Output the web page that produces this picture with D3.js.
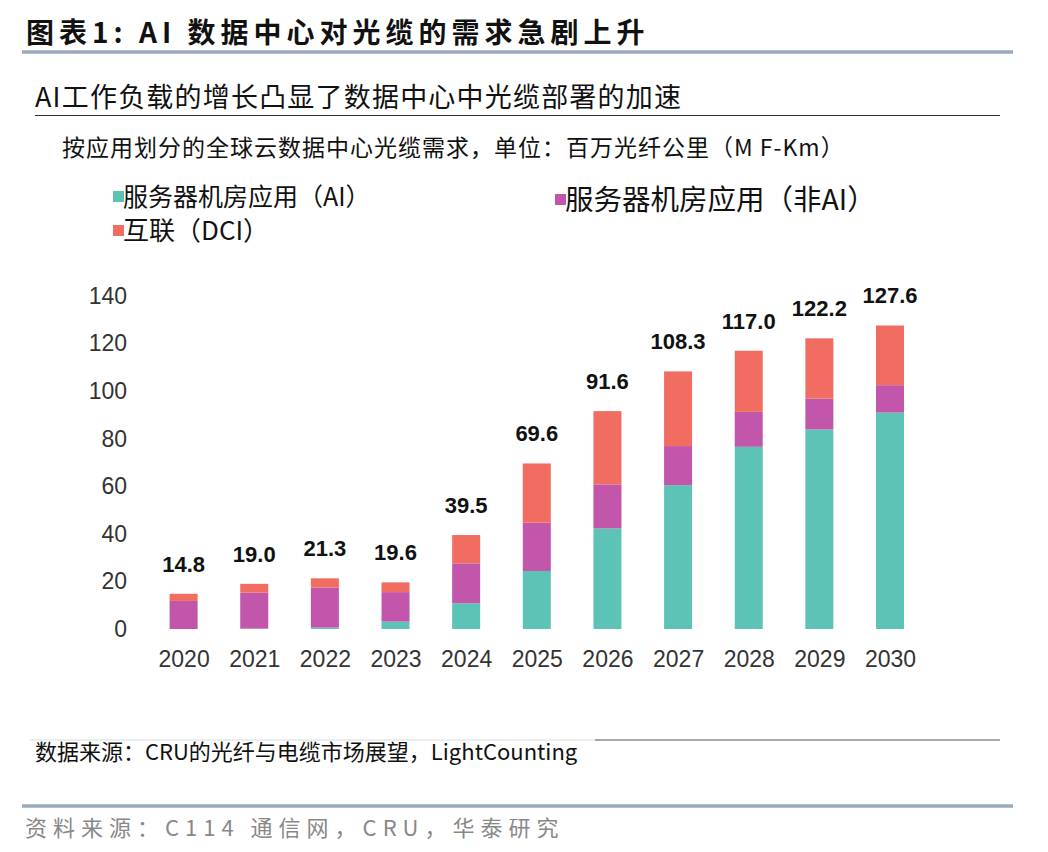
<!DOCTYPE html>
<html>
<head>
<meta charset="utf-8">
<script src="https://cdn.jsdelivr.net/npm/d3@7"></script>
<style>
  body { margin: 0; background: #fff; }
  svg { display: block; font-family: "Noto Sans CJK SC", "Noto Sans", sans-serif; }
</style>
</head>
<body>
<svg width="1048" height="852"></svg>
<script>
// 年份
const years = ['2020','2021','2022','2023','2024','2025','2026','2027','2028','2029','2030'];
// 服务器机房应用（AI）
const aiValues = [0.0, 0.2, 0.6, 3.1, 10.8, 24.4, 42.3, 60.5, 76.6, 83.9, 91.0];
// 服务器机房应用（非AI）
const nonAiValues = [11.8, 15.1, 16.8, 12.4, 16.8, 20.3, 18.5, 16.4, 14.7, 13.0, 11.5];
// 互联（DCI）
const dciValues = [3.0, 3.7, 3.9, 4.1, 11.9, 24.9, 30.8, 31.4, 25.7, 25.3, 25.1];
// 柱顶总数标签
const totalLabels = ['14.8','19.0','21.3','19.6','39.5','69.6','91.6','108.3','117.0','122.2','127.6'];
const yTicks = [0, 20, 40, 60, 80, 100, 120, 140];

const seriesKeys = ['ai', 'nonAi', 'dci'];
const seriesNames = ['服务器机房应用（AI）', '服务器机房应用（非AI）', '互联（DCI）'];
const colors = {ai: '#5ec3b7', nonAi: '#c156aa', dci: '#f16c61'};

let svg = d3.select('svg');

//标题
svg.append('text')
    .attr('x', 26).attr('y', 43)
    .attr('font-size', 28).attr('font-weight', 700)
    .attr('letter-spacing', 5)
    .attr('fill', '#111')
    .text('图表1:  AI 数据中心对光缆的需求急剧上升');
svg.append('line')
    .attr('x1', 22).attr('x2', 1013).attr('y1', 52).attr('y2', 52)
    .attr('stroke', '#9aaabb').attr('stroke-width', 3.5);

//副标题
svg.append('text')
    .attr('x', 35).attr('y', 107)
    .attr('font-size', 27)
    .attr('letter-spacing', 1.2)
    .attr('fill', '#111')
    .text('AI工作负载的增长凸显了数据中心中光缆部署的加速');
svg.append('line')
    .attr('x1', 35).attr('x2', 1000).attr('y1', 115.5).attr('y2', 115.5)
    .attr('stroke', '#333').attr('stroke-width', 1);

svg.append('text')
    .attr('x', 62).attr('y', 156)
    .attr('font-size', 23)
    .attr('letter-spacing', 1)
    .attr('fill', '#111')
    .text('按应用划分的全球云数据中心光缆需求，单位：百万光纤公里（M F-Km）');

//图例
let legendItems = [
    {key: 'ai', x: 113, y: 197, size: 25},
    {key: 'nonAi', x: 555, y: 200, size: 28.5},
    {key: 'dci', x: 113, y: 231, size: 26}
];
let legend = svg.append('g').attr('class', 'd3-legend');
legendItems.forEach(function(d, i){
    legend.append('rect')
        .attr('x', d.x).attr('y', d.y - 6)
        .attr('width', 11).attr('height', 11)
        .attr('fill', colors[d.key]);
    legend.append('text')
        .attr('x', d.x + 10).attr('y', d.y)
        .attr('dy', '0.36em')
        .attr('font-size', d.size)
        .attr('fill', '#111')
        .text(seriesNames[seriesKeys.indexOf(d.key)]);
});

//比例尺
let xScale = d3.scalePoint().domain(years).range([183.6, 890]);
let yScale = d3.scaleLinear().domain([0, 140]).range([629, 296]);
let barWidth = 28;

//y轴
let yAxis = svg.append('g')
    .attr('transform', 'translate(127,0)')
    .call(d3.axisLeft(yScale).tickValues(yTicks).tickSize(0).tickPadding(0));
yAxis.select('.domain').remove();
yAxis.selectAll('text')
    .attr('font-family', '"Liberation Sans", Arial, sans-serif')
    .attr('font-size', 23).attr('fill', '#333');

//x轴
let xAxis = svg.append('g')
    .attr('transform', 'translate(0,629)')
    .call(d3.axisBottom(xScale).tickSize(0).tickPadding(22));
xAxis.select('.domain').remove();
xAxis.selectAll('text')
    .attr('font-family', '"Liberation Sans", Arial, sans-serif')
    .attr('font-size', 23).attr('fill', '#333');

//堆叠数据
let rows = years.map(function(y, i){
    return {year: y, ai: aiValues[i], nonAi: nonAiValues[i], dci: dciValues[i]};
});
let stacked = d3.stack().keys(seriesKeys)(rows);

svg.append('g')
    .attr('class', 'd3-bars')
    .selectAll('g')
    .data(stacked)
    .enter()
    .append('g')
    .attr('fill', function(d){ return colors[d.key]; })
    .selectAll('rect')
    .data(function(d){ return d; })
    .enter()
    .append('rect')
    .attr('x', function(d){ return xScale(d.data.year) - barWidth / 2; })
    .attr('y', function(d){ return yScale(d[1]); })
    .attr('width', barWidth)
    .attr('height', function(d){ return yScale(d[0]) - yScale(d[1]); });

//总数标签
let topLayer = stacked[stacked.length - 1];
svg.append('g')
    .attr('class', 'd3-total')
    .selectAll('text')
    .data(topLayer)
    .enter()
    .append('text')
    .attr('x', function(d){ return xScale(d.data.year); })
    .attr('y', function(d){ return yScale(d[1]) - 22; })
    .attr('text-anchor', 'middle')
    .attr('font-family', '"Liberation Sans", Arial, sans-serif')
    .attr('font-size', 22).attr('font-weight', 700)
    .attr('fill', '#111')
    .text(function(d, i){ return totalLabels[i]; });

//数据来源
svg.append('line')
    .attr('x1', 30).attr('x2', 600).attr('y1', 740).attr('y2', 740)
    .attr('stroke', '#e4e8ec').attr('stroke-width', 1.5);
svg.append('line')
    .attr('x1', 595).attr('x2', 1000).attr('y1', 740).attr('y2', 740)
    .attr('stroke', '#8a8f94').attr('stroke-width', 1.5);
svg.append('text')
    .attr('x', 35).attr('y', 760)
    .attr('font-size', 22)
    .attr('fill', '#111')
    .text('数据来源：CRU的光纤与电缆市场展望，LightCounting');

svg.append('line')
    .attr('x1', 22).attr('x2', 1013).attr('y1', 806).attr('y2', 806)
    .attr('stroke', '#9aaabb').attr('stroke-width', 3.5);
svg.append('text')
    .attr('x', 25).attr('y', 836)
    .attr('font-size', 22)
    .attr('letter-spacing', 6)
    .attr('fill', '#888')
    .text('资料来源：C114 通信网，CRU，华泰研究');
</script>
</body>
</html>
